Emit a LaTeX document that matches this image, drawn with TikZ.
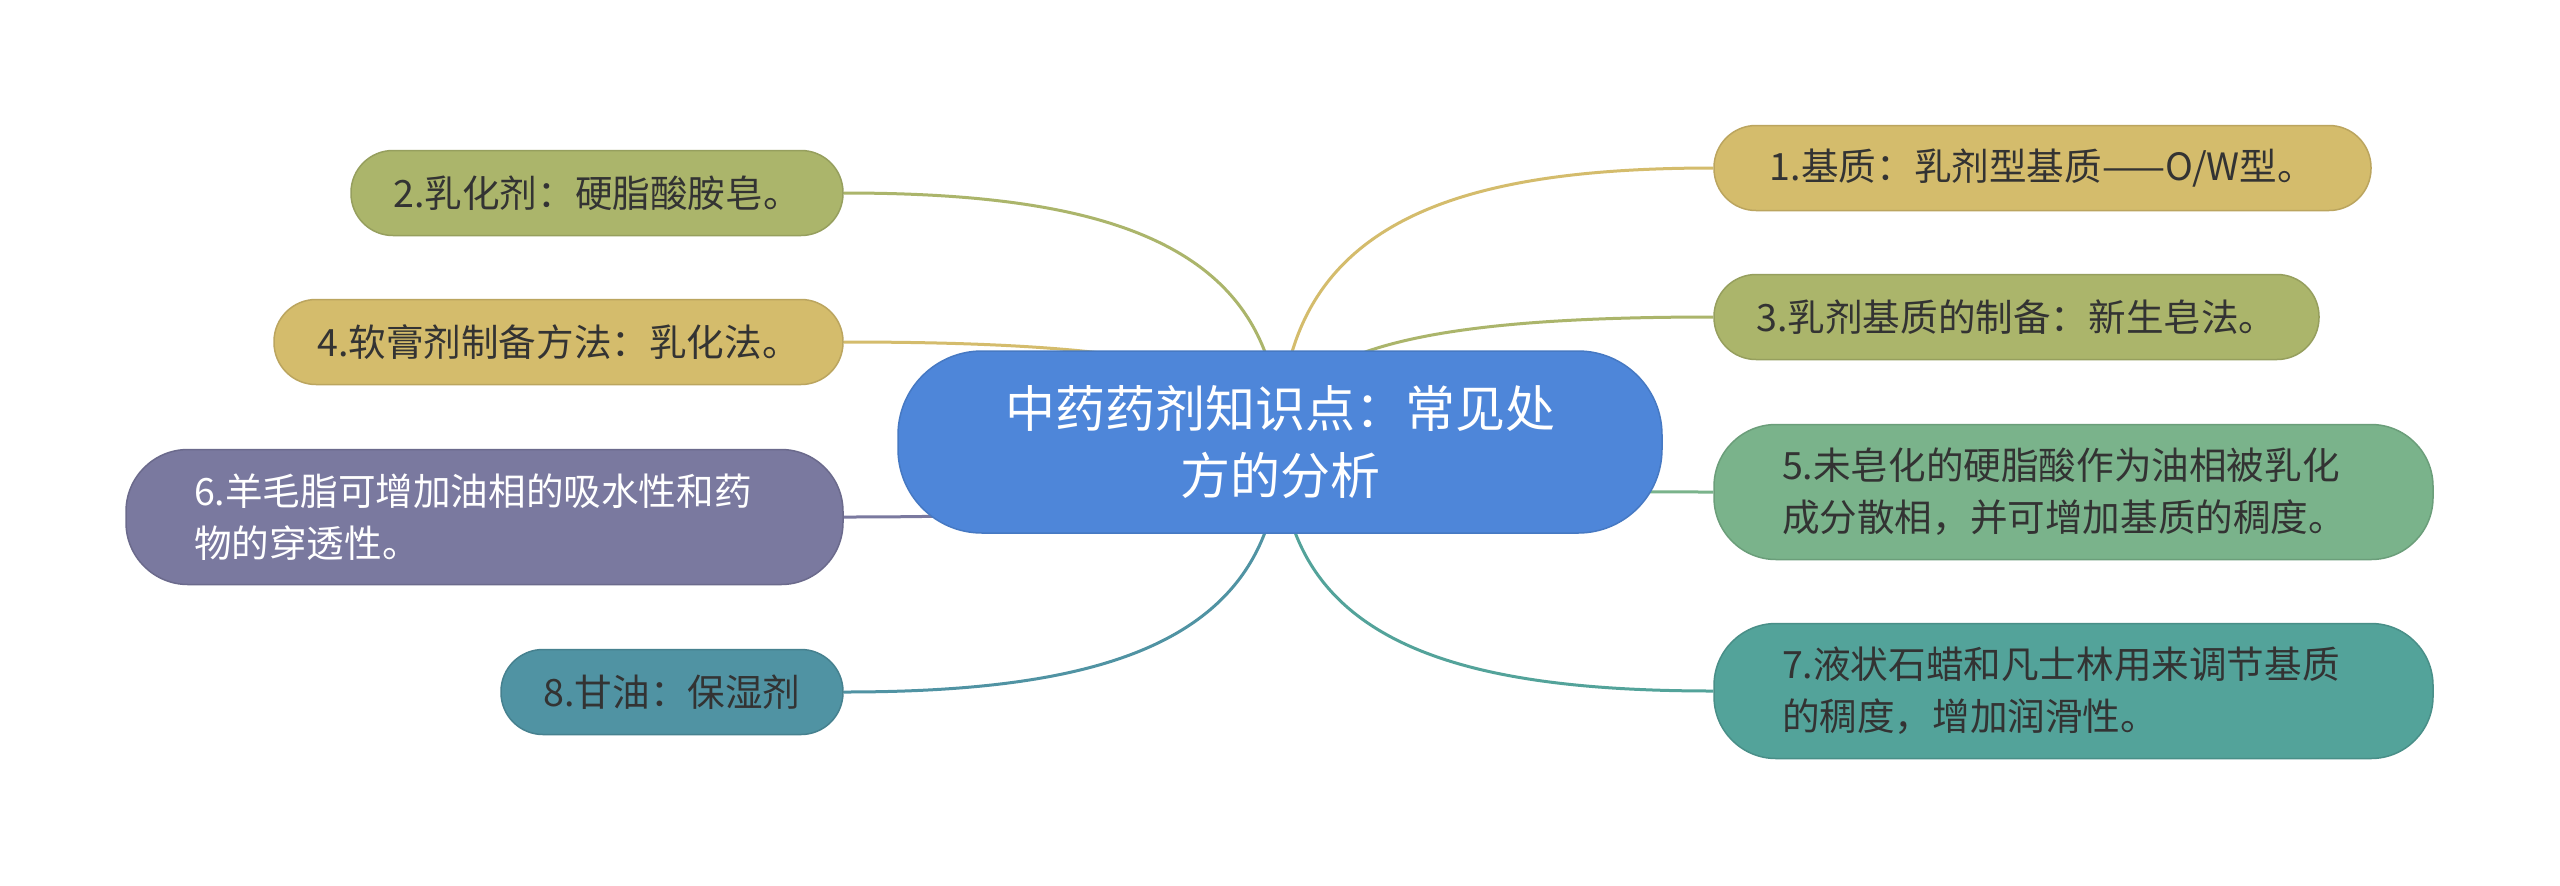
\documentclass[tikz,border=0pt]{standalone}
\usepackage{fontspec}
\newfontfamily\cjk{Noto Sans CJK SC}
\usetikzlibrary{calc,backgrounds}
\definecolor{cTan}{HTML}{D4BC6C}
\definecolor{cOlive}{HTML}{ABB56B}
\definecolor{cGreen}{HTML}{7AB38B}
\definecolor{cTeal}{HTML}{53A39A}
\definecolor{cPurple}{HTML}{7A799F}
\definecolor{cBlueTeal}{HTML}{5093A3}
\definecolor{cRoot}{HTML}{4E86D9}
\definecolor{txt}{HTML}{333333}
\begin{document}
\begin{tikzpicture}[x=0.5pt,y=-0.5pt,
  leaf/.style={draw=#1!88!black, fill=#1, line width=0.75pt, text=txt,
    font=\cjk\fontsize{18.8}{26}\selectfont, inner xsep=34pt, inner ysep=0pt,
    rounded corners=21pt, minimum height=42.5pt},
  twoline/.style={minimum height=67.5pt, align=left, rounded corners=31pt},
  lighttext/.style={text=white},
  conn/.style={draw=#1, line width=1.5pt},
]
\useasboundingbox (0,0) rectangle (2560,885);

\node[draw=cRoot!90!black, fill=cRoot, line width=0.75pt, text=white,
  font=\cjk\fontsize{25}{33.5}\selectfont, align=center,
  minimum width=382pt, minimum height=91pt, rounded corners=42pt, inner sep=0pt]
  (root) at (1280,442) {中药药剂知识点：常见处\\方的分析};

\node[leaf=cTan, minimum width=328.5pt, inner xsep=0pt] (n1) at (2042.5,168) {1.基质：乳剂型基质——O/W型。};
\node[leaf=cOlive, minimum width=302.5pt, inner xsep=0pt] (n3) at (2016.5,317) {3.乳剂基质的制备：新生皂法。};
\node[leaf=cGreen, twoline, text width=291.5pt] (n5) at (2073.5,492) {5.未皂化的硬脂酸作为油相被乳化\\成分散相，并可增加基质的稠度。};
\node[leaf=cTeal, twoline, text width=291.5pt] (n7) at (2073.5,691) {7.液状石蜡和凡士林用来调节基质\\的稠度，增加润滑性。};

\node[leaf=cOlive, minimum width=246pt, inner xsep=0pt] (n2) at (597,193) {2.乳化剂：硬脂酸胺皂。};
\node[leaf=cTan, minimum width=284.5pt, inner xsep=0pt] (n4) at (558.5,342) {4.软膏剂制备方法：乳化法。};
\node[leaf=cPurple, twoline, lighttext, text width=290.5pt] (n6) at (484.5,517) {6.羊毛脂可增加油相的吸水性和药\\物的穿透性。};
\node[leaf=cBlueTeal, minimum width=171pt, inner xsep=0pt] (n8) at (672,692) {8.甘油：保湿剂};

\begin{scope}[on background layer]
  \fill[white] (0,0) rectangle (2560,885);
  \foreach \nd/\c/\s in {n1/cTan/west, n3/cOlive/west, n5/cGreen/west, n7/cTeal/west,
                        n2/cOlive/east, n4/cTan/east, n6/cPurple/east, n8/cBlueTeal/east}{
    \draw[conn=\c] let \p1=(root.center), \p2=(\nd.\s) in
      (\p1) .. controls (\x1,{\y1+0.8*(\y2-\y1)}) and ({\x1+0.4*(\x2-\x1)},\y2) .. (\p2);
  }
\end{scope}
\end{tikzpicture}
\end{document}
